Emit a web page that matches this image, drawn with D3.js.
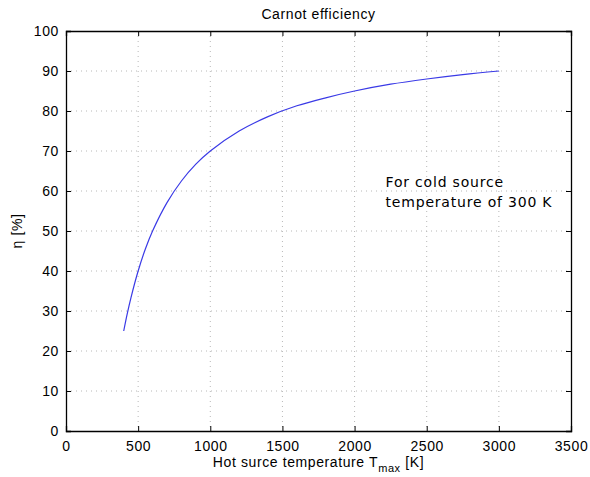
<!DOCTYPE html>
<html>
<head>
<meta charset="utf-8">
<script src="https://cdn.jsdelivr.net/npm/d3@7"></script>
<style>
  body { margin: 0; background: #fff; }
  svg { font-family: "Liberation Sans", Arial, sans-serif; }
  .grid line { stroke: #b8b8b8; stroke-dasharray: 1,4; }
</style>
</head>
<body>
<svg width="590" height="477"></svg>
<script>
// data
const tempK = [400, 425, 450, 500, 550, 600, 700, 800, 900, 1000, 1200, 1400, 1600, 1800, 2000, 2250, 2500, 2750, 3000];
const etaPct = [25, 29.4, 33.3, 40, 45.5, 50, 57.1, 62.5, 66.7, 70, 75, 78.6, 81.3, 83.3, 85, 86.7, 88, 89.1, 90];
const xTicks = [0, 500, 1000, 1500, 2000, 2500, 3000, 3500];
const yTicks = [0, 10, 20, 30, 40, 50, 60, 70, 80, 90, 100];

const margin = { top: 31, left: 66, right: 19, bottom: 46 },
    width = 590 - margin.left - margin.right,
    height = 477 - margin.top - margin.bottom;

const svg = d3.select("svg");
const g = svg.append("g")
    .attr("transform", "translate(" + margin.left + "," + margin.top + ")");

let x = d3.scaleLinear().domain([0, 3500]).range([0, width]);
let y = d3.scaleLinear().domain([0, 100]).range([height, 0]);

// grid
g.append("g").attr("class", "grid")
    .selectAll("line").data(xTicks.slice(1, -1)).enter().append("line")
    .attr("x1", d => x(d)).attr("x2", d => x(d))
    .attr("y1", 0).attr("y2", height);
g.append("g").attr("class", "grid")
    .selectAll("line").data(yTicks.slice(1, -1)).enter().append("line")
    .attr("y1", d => y(d)).attr("y2", d => y(d))
    .attr("x1", 0).attr("x2", width);

// axes, ticks pointing in, on all four sides
const fs = "14px", ls = "0.6px";
g.append("g")
    .attr("transform", "translate(0," + height + ")")
    .call(d3.axisBottom(x).tickValues(xTicks).tickSize(-5).tickPadding(10).tickFormat(d3.format("d")))
    .call(a => a.selectAll("text").style("font-size", fs).style("letter-spacing", ls).attr("fill", "#000"));
g.append("g")
    .call(d3.axisLeft(y).tickValues(yTicks).tickSize(-5).tickPadding(7))
    .call(a => a.selectAll("text").style("font-size", fs).style("letter-spacing", ls).attr("fill", "#000"));
g.append("g")
    .call(d3.axisTop(x).tickValues(xTicks).tickSize(-5).tickFormat(""));
g.append("g")
    .attr("transform", "translate(" + width + ",0)")
    .call(d3.axisRight(y).tickValues(yTicks).tickSize(-5).tickFormat(""));
g.selectAll(".domain").attr("stroke", "#000").attr("stroke-width", 1.3);

// curve
const line = d3.line()
    .x((d, i) => x(tempK[i]))
    .y(d => y(d))
    .curve(d3.curveCatmullRom);
g.append("path")
    .datum(etaPct)
    .attr("fill", "none")
    .attr("stroke", "#3a3ae6")
    .attr("stroke-width", 1.2)
    .attr("d", line);

// labels
svg.append("text")
    .attr("x", margin.left + width / 2).attr("y", 19)
    .attr("text-anchor", "middle").style("font-size", fs).style("letter-spacing", ls)
    .text("Carnot efficiency");

const xl = svg.append("text")
    .attr("x", margin.left + width / 2).attr("y", 467)
    .attr("text-anchor", "middle").style("font-size", fs).style("letter-spacing", ls);
xl.append("tspan").text("Hot surce temperature T");
xl.append("tspan").attr("dy", 5).style("font-size", "11px").text("max");
xl.append("tspan").attr("dy", -5).text(" [K]");

svg.append("text")
    .attr("transform", "translate(22," + (margin.top + height / 2) + ") rotate(-90)")
    .attr("text-anchor", "middle").style("font-size", fs).style("letter-spacing", ls)
    .text("η [%]");

const note = g.append("text")
    .attr("x", x(2215)).attr("y", y(61))
    .style("font-family", "'DejaVu Sans', sans-serif").style("font-size", "14px")
    .style("letter-spacing", "0.8px");
note.append("tspan").text("For cold source");
note.append("tspan").attr("x", x(2215)).attr("dy", 20).text("temperature of 300 K");
</script>
</body>
</html>
